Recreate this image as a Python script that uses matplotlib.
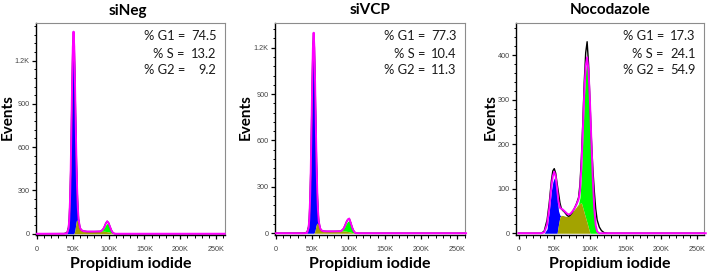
import matplotlib
matplotlib.use("Agg")
import matplotlib.pyplot as plt
from matplotlib.ticker import FixedLocator, AutoMinorLocator
import numpy as np

# ---------------- data (x in K units of propidium iodide) ----------------
titles = ["siNeg", "siVCP", "Nocodazole"]
stats = [("74.5", "13.2", "9.2"), ("77.3", "10.4", "11.3"), ("17.3", "24.1", "54.9")]
stat_labels = ["% G1 =", "% S =", "% G2 ="]

x_ticks = [0, 50, 100, 150, 200, 250]
x_ticklabels = ["0", "50K", "100K", "150K", "200K", "250K"]
y_ticks_12 = [0, 300, 600, 900, 1200]
y_ticklabels_12 = ["0", "300", "600", "900", "1.2K"]
y_ticks_3 = [0, 100, 200, 300, 400]
y_ticklabels_3 = ["0", "100", "200", "300", "400"]
y_max = [1460, 1360, 472]

# siNeg
x1 = [0, 38, 42, 44, 45, 46, 47, 48, 49, 50, 51, 52, 53, 54, 55, 56, 57, 58, 60, 62,
      65, 70, 80, 88, 90, 92, 94, 96, 98, 100, 102, 104, 106, 108, 110, 114, 262]
s1 = [0, 0, 0, 0, 0, 0, 0, 0, 0, 0, 0, 5, 25, 60, 90, 95, 85, 65, 38, 25,
      18, 15, 15, 16, 17, 17, 17, 16, 14, 12, 9, 5, 2, 0, 0, 0, 0]
g1_1 = [0, 0, 4, 36, 96, 218, 425, 714, 1034, 1291, 1390, 1291, 1034, 714, 425, 218, 96, 36, 3, 0,
        0, 0, 0, 0, 0, 0, 0, 0, 0, 0, 0, 0, 0, 0, 0, 0, 0]
g2_1 = [0, 0, 0, 0, 0, 0, 0, 0, 0, 0, 0, 0, 0, 0, 0, 0, 0, 0, 0, 0,
        0, 0, 0, 0, 3, 10, 25, 45, 58, 50, 30, 13, 4, 1, 0, 0, 0]
fit1 = [0, 0, 4, 36, 96, 218, 425, 714, 1034, 1291, 1400, 1296, 1059, 774, 515, 313, 181, 101, 41, 25,
        18, 15, 15, 16, 21, 29, 47, 71, 86, 74, 47, 22, 7, 1, 0, 0, 0]
raw1 = [0, 1, 8, 45, 105, 222, 425, 714, 1034, 1291, 1400, 1296, 1059, 774, 515, 313, 181, 101, 41, 25,
        18, 15, 15, 16, 21, 29, 47, 71, 86, 74, 47, 22, 7, 1, 0, 0, 0]

# siVCP
x2 = [0, 39, 43, 45, 46, 47, 48, 49, 50, 51, 52, 53, 54, 55, 56, 57, 58, 59, 61, 63,
      66, 70, 80, 89, 91, 93, 95, 97, 99, 101, 103, 105, 107, 109, 111, 115, 262]
s2 = [0, 0, 0, 0, 0, 0, 0, 0, 0, 0, 0, 4, 18, 42, 60, 65, 58, 45, 28, 18,
      13, 12, 12, 13, 14, 14, 14, 13, 11, 9, 7, 4, 2, 0, 0, 0, 0]
g1_2 = [0, 0, 3, 34, 89, 203, 395, 663, 960, 1198, 1290, 1198, 960, 663, 395, 203, 89, 34, 3, 0,
        0, 0, 0, 0, 0, 0, 0, 0, 0, 0, 0, 0, 0, 0, 0, 0, 0]
g2_2 = [0, 0, 0, 0, 0, 0, 0, 0, 0, 0, 0, 0, 0, 0, 0, 0, 0, 0, 0, 0,
        0, 0, 0, 0, 4, 12, 28, 50, 66, 71, 54, 30, 12, 4, 1, 0, 0]
fit2 = [0, 0, 3, 34, 89, 203, 395, 663, 960, 1198, 1297, 1202, 978, 705, 455, 268, 147, 79, 31, 18,
        13, 12, 12, 13, 19, 28, 47, 71, 88, 95, 69, 38, 16, 4, 1, 0, 0]
raw2 = [0, 1, 7, 42, 96, 208, 395, 663, 960, 1198, 1297, 1202, 978, 705, 455, 268, 147, 79, 31, 18,
        13, 12, 12, 13, 19, 28, 47, 71, 88, 95, 69, 38, 16, 4, 1, 0, 0]

# Nocodazole
x3 = [0, 32, 36, 40, 43, 46, 48, 50, 52, 54, 56, 58, 60, 62, 64, 66, 68, 70, 72, 75,
      78, 81, 84, 86, 88, 90, 92, 94, 96, 98, 100, 102, 104, 106, 108, 110, 113, 116, 120, 125, 262]
s3 = [0, 0, 0, 0, 0, 0, 0, 0, 0, 0, 20, 37, 40, 40, 39, 38, 38, 39, 42, 47,
      53, 59, 64, 67, 68, 57, 45, 34, 23, 11, 0, 0, 0, 0, 0, 0, 0, 0, 0, 0, 0]
g1_3 = [0, 0, 0, 10, 50, 95, 115, 124, 118, 82, 30, 3, 0, 0, 0, 0, 0, 0, 0, 0,
        0, 0, 0, 0, 0, 0, 0, 0, 0, 0, 0, 0, 0, 0, 0, 0, 0, 0, 0, 0, 0]
g2_3 = [0, 0, 0, 0, 0, 0, 0, 0, 0, 0, 0, 0, 0, 0, 0, 0, 0, 0, 0, 0,
        0, 0, 2, 13, 62, 158, 255, 331, 362, 339, 280, 190, 105, 45, 12, 2, 0, 0, 0, 0, 0]
fit3 = [0, 0, 2, 20, 55, 105, 128, 138, 128, 100, 70, 57, 55, 53, 50, 47, 44, 42, 43, 48,
        55, 64, 76, 95, 150, 230, 315, 375, 395, 365, 295, 205, 120, 55, 18, 4, 0, 0, 0, 0, 0]
raw3 = [0, 0, 5, 30, 68, 118, 140, 145, 135, 112, 90, 68, 55, 51, 48, 44, 40, 38, 40, 46,
        55, 66, 80, 110, 170, 250, 340, 405, 430, 380, 295, 210, 145, 95, 55, 30, 14, 6, 1, 0, 0]

panels = [
    (x1, s1, g1_1, g2_1, fit1, raw1),
    (x2, s2, g1_2, g2_2, fit2, raw2),
    (x3, s3, g1_3, g2_3, fit3, raw3),
]

# ---------------- layout ----------------
W, H = 709, 275
fig = plt.figure(figsize=(W / 100, H / 100), dpi=100)

# axes boxes in pixels: left, right, top, bottom
boxes = [(36, 225, 23, 235), (274.5, 465, 23, 234.5), (516, 704, 23, 234.5)]
xlims = [(-1.4, 262.5), (-1.9, 260.5), (-3.5, 259.5)]
ylabel_x = [8, 246, 491]

olive = "#A3A300"
font = "Lato"
tick_color = "#444444"

for i, (box, data) in enumerate(zip(boxes, panels)):
    l, r, t, b = box
    ax = fig.add_axes([l / W, 1 - b / H, (r - l) / W, (b - t) / H])
    x, s, g1, g2, fit, raw = [np.asarray(v, dtype=float) for v in data]

    ax.fill_between(x, 0, s, color=olive, lw=0, zorder=3)
    ax.fill_between(x, s, s + g1, where=g1 > 0, color="#0000FF", lw=0, zorder=2, interpolate=True)
    ax.fill_between(x, s, s + g2, where=g2 > 0, color="#00FF00", lw=0, zorder=2, interpolate=True)
    ax.plot(x, raw, color="black", lw=1.0, zorder=4)
    ax.plot(x, fit, color="#FF00FF", lw=1.4, zorder=5, clip_on=False)

    ymax = y_max[i]
    ax.set_ylim(-0.006 * ymax, ymax)
    ax.set_xlim(*xlims[i])

    if i < 2:
        ax.yaxis.set_major_locator(FixedLocator(y_ticks_12))
        ax.set_yticklabels(y_ticklabels_12)
    else:
        ax.yaxis.set_major_locator(FixedLocator(y_ticks_3))
        ax.set_yticklabels(y_ticklabels_3)
    ax.xaxis.set_major_locator(FixedLocator(x_ticks))
    ax.set_xticklabels(x_ticklabels)
    ax.xaxis.set_minor_locator(AutoMinorLocator(5))
    ax.yaxis.set_minor_locator(AutoMinorLocator(5))

    ax.tick_params(which="major", direction="out", length=3.2, width=0.9, color="black",
                   labelsize=5.2, labelcolor=tick_color, pad=1.2)
    ax.tick_params(which="minor", direction="out", length=1.8, width=0.7, color="black")
    ax.tick_params(axis="x", which="major", pad=5)
    for lab in ax.get_xticklabels() + ax.get_yticklabels():
        lab.set_family("Liberation Sans")

    for side in ("top", "right"):
        ax.spines[side].set_color("#8c8c8c")
        ax.spines[side].set_linewidth(0.8)
    for side in ("left", "bottom"):
        ax.spines[side].set_color("black")
        ax.spines[side].set_linewidth(1.0)

    # stats text
    offs = [-13.5, -30.5, -47.5]
    for j in range(3):
        ax.annotate(stat_labels[j], xy=(1, 1), xycoords="axes fraction",
                    xytext=(-40 * 0.72, offs[j] * 0.72), textcoords="offset points",
                    ha="right", va="center", fontsize=9.3, family=font, color="#1a1a1a")
        ax.annotate(stats[i][j], xy=(1, 1), xycoords="axes fraction",
                    xytext=(-8.5 * 0.72, offs[j] * 0.72), textcoords="offset points",
                    ha="right", va="center", fontsize=9.3, family=font, color="#1a1a1a")

    cx = (l + r) / 2
    fig.text((cx - (3 if i == 0 else 0)) / W, 1 - 10.5 / H, titles[i], ha="center", va="center",
             fontsize=11, fontweight="bold", family=font)
    fig.text(cx / W, 1 - 264 / H, "Propidium iodide", ha="center", va="center",
             fontsize=11.5, fontweight="bold", family=font)
    fig.text(ylabel_x[i] / W, 1 - 117 / H, "Events", ha="center", va="center", rotation=90,
             fontsize=11, fontweight="bold", family=font)

fig.savefig("out.png", dpi=100)
